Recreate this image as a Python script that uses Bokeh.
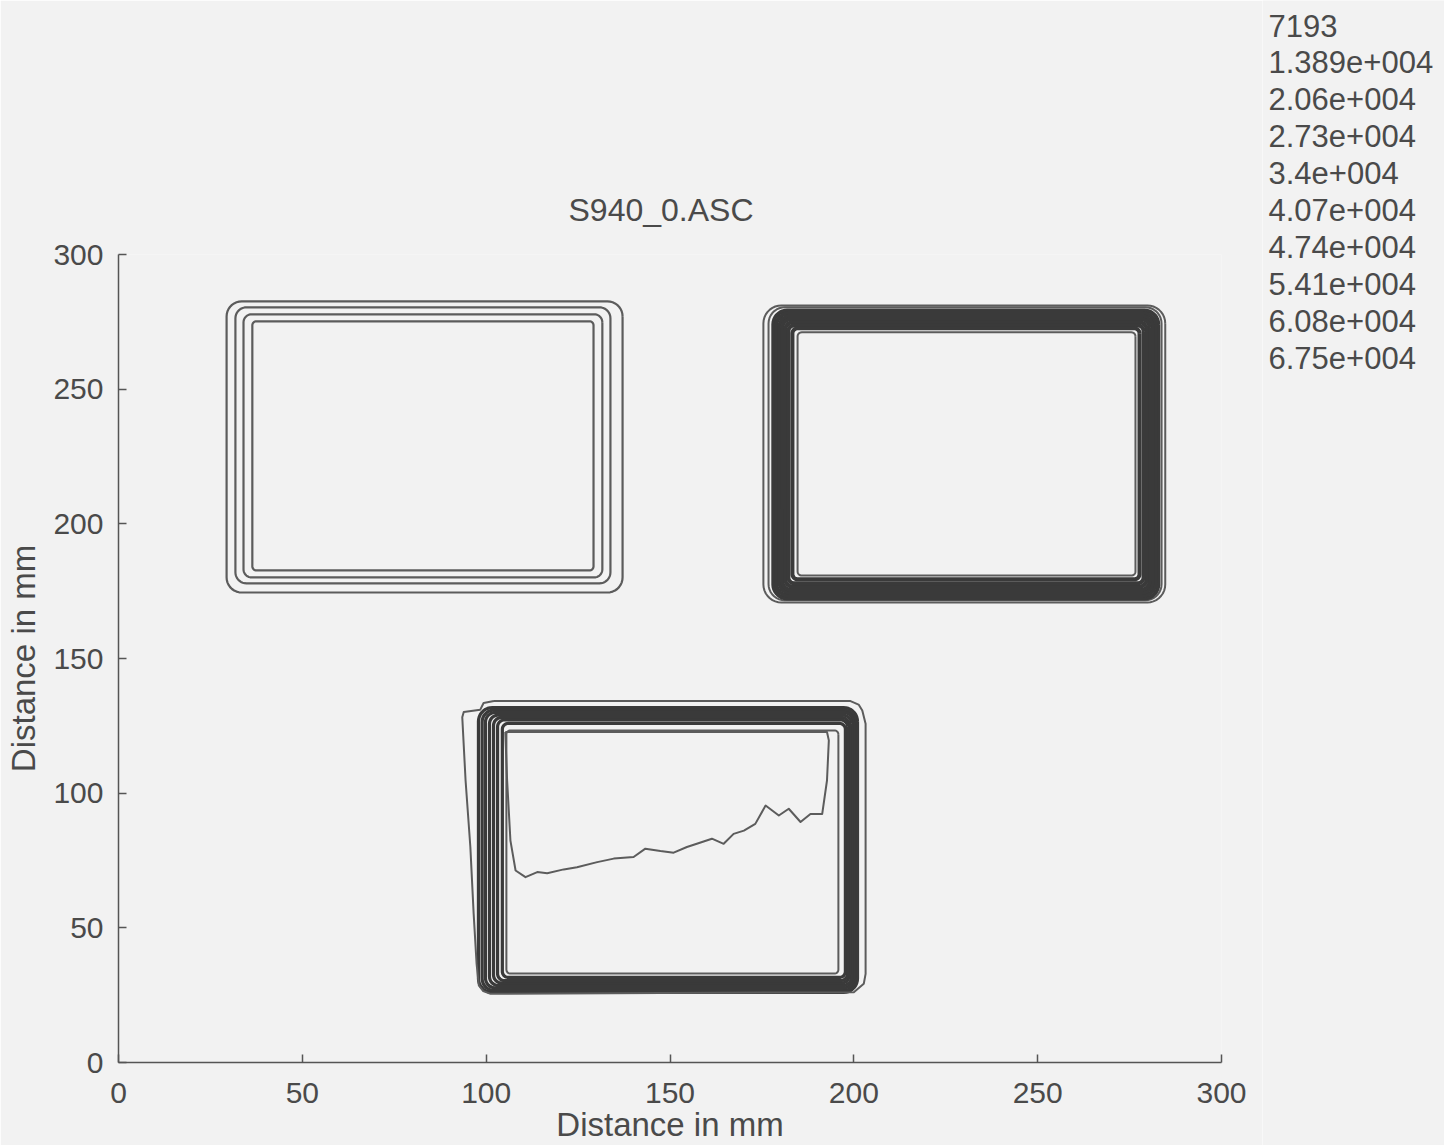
import numpy as np
from bokeh.plotting import figure
from bokeh.layouts import row
from bokeh.models import FixedTicker, ColumnDataSource, Range1d
from bokeh.core.properties import value
from bokeh.embed import file_html
from bokeh.resources import INLINE

# ---------------- data (mm) ----------------
title_text = "S940_0.ASC"
level_labels = ["7193", "1.389e+004", "2.06e+004", "2.73e+004", "3.4e+004",
                "4.07e+004", "4.74e+004", "5.41e+004", "6.08e+004", "6.75e+004"]
tick_values = [0, 50, 100, 150, 200, 250, 300]

# Box 1 (upper left) – contour levels 1..4
box1_left = [29.4, 31.8, 34.0, 36.4]
box1_right = [137.1, 133.8, 131.6, 129.2]
box1_bottom = [174.5, 177.9, 180.1, 182.7]
box1_top = [282.6, 280.4, 277.8, 275.2]
box1_radius = [4.1, 3.0, 2.2, 1.1]

# Box 2 (upper right) – contour levels 1..10
box2_left = [175.4, 176.8, 178.1, 178.9, 179.8, 180.6, 181.4, 182.2, 183.3, 184.7]
box2_right = [284.7, 283.7, 282.8, 282.0, 281.2, 280.4, 279.6, 278.8, 277.7, 276.6]
box2_bottom = [170.8, 171.6, 172.3, 173.4, 174.5, 175.6, 176.7, 177.9, 179.4, 180.8]
box2_top = [281.1, 280.4, 279.2, 278.1, 277.0, 275.9, 274.8, 273.7, 272.6, 271.1]
box2_radius = [4.9, 4.4, 3.8, 3.3, 2.7, 2.2, 1.9, 1.6, 1.4, 1.1]

# Box 3 (lower middle) – level 1 outline (irregular)
box3_outer_x = [102.1, 199.1, 201.3, 202.3, 203.2, 203.2, 202.7, 200.0, 101.2, 99.2,
                98.0, 97.4, 96.6, 95.7, 94.4, 93.5, 93.9, 98.4, 99.3, 102.1]
box3_outer_y = [134.2, 134.2, 132.9, 130.7, 125.8, 32.9, 29.2, 26.1, 25.5, 26.5,
                28.6, 36.6, 55.2, 80.0, 104.7, 128.2, 130.1, 131.0, 133.5, 134.2]
# Box 3 – levels 2..9
box3_left = [97.9, 98.9, 99.8, 100.9, 102.0, 103.1, 104.4, 105.5]
box3_right = [201.0, 200.4, 199.9, 199.4, 198.8, 198.3, 197.7, 195.8]
box3_bottom = [26.0, 26.7, 27.7, 28.6, 29.5, 30.4, 31.6, 33.0]
box3_top = [131.8, 130.9, 130.0, 129.0, 128.1, 127.2, 125.9, 123.3]
box3_radius = [3.8, 3.3, 2.7, 2.4, 2.2, 1.9, 1.6, 1.1]
# Box 3 – level 10 (jagged inner contour)
box3_inner_x = [105.2, 192.7, 193.2, 192.7, 191.4, 188.2, 185.5, 182.3, 179.6, 176.0,
                173.2, 170.1, 167.3, 164.6, 161.4, 157.3, 154.6, 151.0, 147.4, 143.3,
                140.1, 134.7, 130.2, 124.7, 121.1, 116.6, 113.9, 110.7, 108.0, 106.6,
                105.7, 105.2]
box3_inner_y = [122.7, 122.7, 119.6, 104.7, 92.3, 92.3, 89.3, 94.2, 91.7, 95.4,
                88.6, 86.1, 84.9, 81.2, 83.1, 81.2, 80.0, 77.9, 78.5, 79.4,
                76.3, 75.7, 74.4, 72.5, 71.7, 70.3, 70.7, 68.8, 71.3, 82.4,
                104.7, 122.7]

# ---------------- layout ----------------
W, H = 1444, 1145
MAIN_W = 1262
FL, FR, FT, FB = 118, 1221, 254, 1062
XMAX = YMAX = 300.0
ASPECT = ((FR - FL) / XMAX) / ((FB - FT) / YMAX)


def rounded_rect(l, r, b, t, rad, n=10):
    ry = rad * ASPECT
    xs, ys = [], []
    corners = [
        (r - rad, t - ry, 0.0, np.pi / 2),
        (l + rad, t - ry, np.pi / 2, np.pi),
        (l + rad, b + ry, np.pi, 1.5 * np.pi),
        (r - rad, b + ry, 1.5 * np.pi, 2 * np.pi),
    ]
    for cx, cy, a0, a1 in corners:
        a = np.linspace(a0, a1, n)
        xs.extend(cx + rad * np.cos(a))
        ys.extend(cy + ry * np.sin(a))
    xs.append(xs[0])
    ys.append(ys[0])
    return xs, ys


def rect_set(L, R, B, T, RAD):
    xs_all, ys_all = [], []
    for l, r, b, t, rad in zip(L, R, B, T, RAD):
        xs, ys = rounded_rect(l, r, b, t, rad)
        xs_all.append(xs)
        ys_all.append(ys)
    return xs_all, ys_all


BG = "#f2f2f2"
INK = "#3a3a3a"
LIGHT = "#5c5c5c"
TXT = "#4a4a4a"
FONT = "Liberation Sans"

p = figure(width=MAIN_W, height=H, x_range=Range1d(0, XMAX), y_range=Range1d(0, YMAX),
           output_backend="svg", toolbar_location=None,
           min_border_left=FL, min_border_right=MAIN_W - FR,
           min_border_top=FT, min_border_bottom=H - FB)
p.background_fill_color = BG
p.border_fill_color = BG
p.outline_line_color = None
p.grid.visible = False

# box 1: separated light contours
xs, ys = rect_set(box1_left, box1_right, box1_bottom, box1_top, box1_radius)
p.multi_line(xs, ys, line_color=LIGHT, line_width=2.2, line_join="round")

# box 2: two outer contours, dense dark band, inner contour
xs, ys = rect_set(box2_left, box2_right, box2_bottom, box2_top, box2_radius)
p.multi_line(xs[:2] + xs[-1:], ys[:2] + ys[-1:], line_color=LIGHT,
             line_width=2.0, line_join="round")
p.multi_line(xs[2:-1], ys[2:-1], line_color=INK, line_width=4.0, line_join="round")

# box 3
xs, ys = rect_set(box3_left, box3_right, box3_bottom, box3_top, box3_radius)
p.multi_line(xs[:-1], ys[:-1], line_color=INK, line_width=3.2, line_join="round")
p.multi_line(xs[-1:] + [box3_outer_x, box3_inner_x], ys[-1:] + [box3_outer_y, box3_inner_y],
             line_color=LIGHT, line_width=2.0, line_join="round")

for ax in (p.xaxis[0], p.yaxis[0]):
    ax.ticker = FixedTicker(ticks=tick_values)
    ax.axis_line_color = "#555555"
    ax.axis_line_width = 1.5
    ax.major_tick_line_color = "#555555"
    ax.major_tick_line_width = 1.5
    ax.major_tick_in = 8
    ax.major_tick_out = 0
    ax.minor_tick_line_color = None
    ax.major_label_text_font = FONT
    ax.major_label_text_font_size = "30px"
    ax.major_label_text_color = TXT
    ax.axis_label = "Distance in mm"
    ax.axis_label_text_font = FONT
    ax.axis_label_text_font_size = "33px"
    ax.axis_label_text_font_style = "normal"
    ax.axis_label_text_color = TXT

p.xaxis.major_label_standoff = 20
p.xaxis.axis_label_standoff = 0
p.yaxis.major_label_standoff = 15
p.yaxis.axis_label_standoff = 8

p.title.text = title_text
p.title.align = "left"
p.title.offset = 568 - FL
p.title.standoff = 53
p.title.text_font = FONT
p.title.text_font_size = "32px"
p.title.text_font_style = "normal"
p.title.text_color = TXT

# legend of contour levels (separate panel to the right)
LEG_W = W - MAIN_W
leg = figure(width=LEG_W, height=H, x_range=Range1d(0, LEG_W), y_range=Range1d(H, 0),
             output_backend="svg", toolbar_location=None,
             x_axis_location=None, y_axis_location=None,
             min_border=0)
leg.frame_align = False
leg.background_fill_color = BG
leg.border_fill_color = BG
leg.outline_line_color = None
leg.grid.visible = False
leg_src = ColumnDataSource(dict(
    x=[1268 - MAIN_W] * len(level_labels),
    y=[25 + 36.9 * i for i in range(len(level_labels))],
    text=level_labels))
leg.text(x="x", y="y", text="text", source=leg_src, text_font=value(FONT),
         text_font_size=value("31px"), text_color=TXT, text_align="left",
         text_baseline="middle")

layout = row(p, leg, spacing=0)
open("out.html", "w").write(file_html(layout, INLINE))
